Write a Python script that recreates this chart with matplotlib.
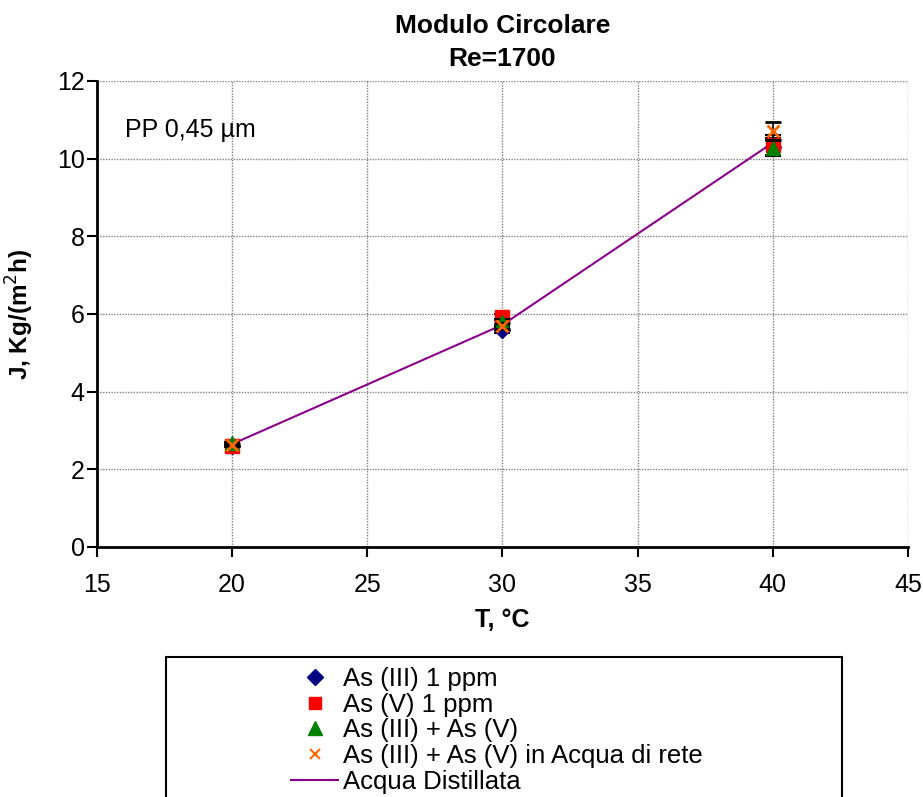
import matplotlib
matplotlib.use("Agg")
import matplotlib.pyplot as plt
from matplotlib.patches import Rectangle
from matplotlib.lines import Line2D

plt.rcParams['font.family'] = ['Liberation Sans', 'DejaVu Sans']

# Temperature (°C) and permeate flux J (kg/(m² h))
temps = [20, 30, 40]
as3_flux = [2.60, 5.58, 10.30]
as3_err = [0.03, 0.08, 0.22]
as5_flux = [2.60, 5.92, 10.35]
as5_err = [0.03, 0.08, 0.25]
mix_flux = [2.67, 5.80, 10.28]
mix_err = [0.03, 0.08, 0.20]
tap_flux = [2.62, 5.70, 10.72]
tap_err = [0.03, 0.08, 0.23]
distilled_flux = [2.65, 5.72, 10.41]

series_labels = [
    "As (III) 1 ppm",
    "As (V) 1 ppm",
    "As (III) + As (V)",
    "As (III) + As (V) in Acqua di rete",
    "Acqua Distillata",
]

x_ticks = [15, 20, 25, 30, 35, 40, 45]
y_ticks = [0, 2, 4, 6, 8, 10, 12]

fig = plt.figure(figsize=(9.23, 7.97), dpi=100)
ax = fig.add_axes([0.1051, 0.3137, 0.8786, 0.5847])

ax.plot(temps, distilled_flux, color='#8B008B', lw=1.5, zorder=2)

err_kw = dict(ecolor='black', elinewidth=1.2, capsize=6, capthick=1.5, ls='none')
ax.errorbar(temps, as3_flux, yerr=as3_err, marker='D', ms=8,
            mfc='#000080', mec='#000080', zorder=3, **err_kw)
ax.errorbar(temps, as5_flux, yerr=as5_err, marker='s', ms=10,
            mfc='#FF0000', mec='#FF0000', zorder=4, **err_kw)
ax.errorbar(temps, mix_flux, yerr=mix_err, marker='^', ms=10,
            mfc='#008000', mec='#008000', zorder=5, **err_kw)
ax.errorbar(temps, tap_flux, yerr=tap_err, marker='x', ms=9, mew=2,
            mfc='#FF6600', mec='#FF6600', zorder=6, **err_kw)

ax.set_xlim(15, 45)
ax.set_ylim(0, 12)
ax.set_xticks(x_ticks)
ax.set_yticks(y_ticks)
ax.tick_params(axis='both', labelsize=18, direction='out', length=7, width=1.5)
ax.tick_params(axis='x', pad=12)
ax.tick_params(axis='y', pad=2)
ax.grid(True, color='#808080', linestyle=(0, (1, 1)), linewidth=1)
ax.set_axisbelow(True)
for side in ('top', 'right'):
    ax.spines[side].set_visible(False)
for side in ('left', 'bottom'):
    ax.spines[side].set_linewidth(2)

ax.set_xlabel("T, °C", fontsize=18, fontweight='bold', labelpad=8)
ax.set_ylabel("J, Kg/(m$^2$h)", fontsize=17.5, fontweight='bold', labelpad=15)
ax.set_title("Modulo Circolare\nRe=1700", fontsize=19, fontweight='bold',
             pad=11, linespacing=1.45)
ax.text(0.035, 0.88, "PP 0,45 µm", transform=ax.transAxes, fontsize=18)

# legend frame running off the bottom of the figure
fig.patches.append(Rectangle((166 / 923, -0.05), (842 - 166) / 923,
                             (797 - 657) / 797 + 0.05,
                             transform=fig.transFigure, fill=False,
                             edgecolor='black', lw=1.5))

handles = [
    Line2D([], [], ls='none', marker='D', ms=8, color='#000080'),
    Line2D([], [], ls='none', marker='s', ms=9, color='#FF0000'),
    Line2D([], [], ls='none', marker='^', ms=10, color='#008000'),
    Line2D([], [], ls='none', marker='x', ms=7, mew=1.5, color='#FF6600'),
    Line2D([], [], color='#8B008B', lw=1.5),
]
fig.legend(handles, series_labels, loc='upper center',
           bbox_to_anchor=(497 / 923, 1 - 654 / 797), frameon=False,
           fontsize=18.5, handlelength=1.85, handletextpad=0.2,
           labelspacing=0.07, borderpad=0)

fig.savefig("out.png", dpi=100)
